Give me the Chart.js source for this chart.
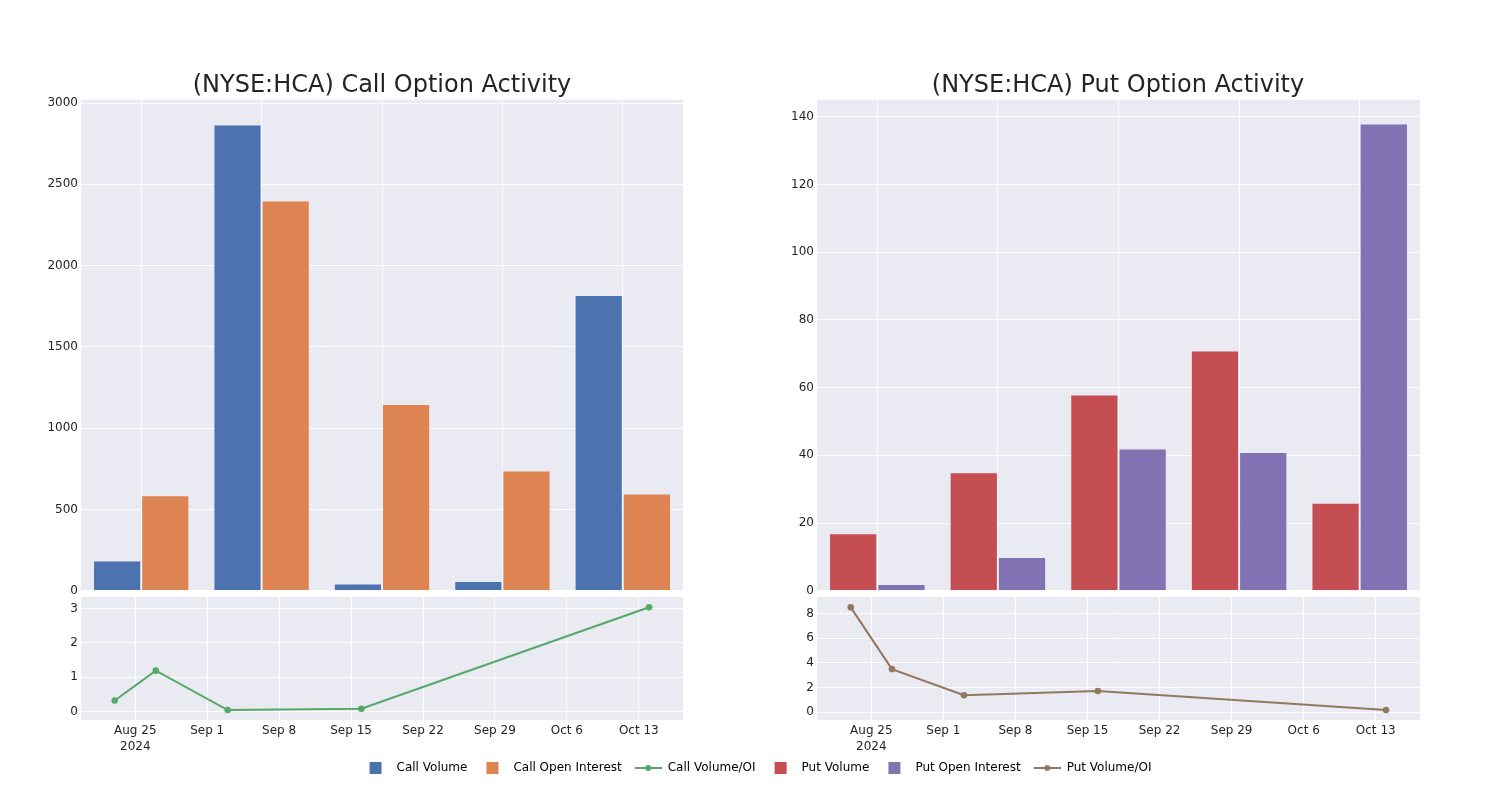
<!DOCTYPE html>
<html><head><meta charset="utf-8">
<script src="https://cdn.jsdelivr.net/npm/chart.js@4.4.1/dist/chart.umd.min.js"></script>
<style>
html,body{margin:0;padding:0;background:#fff;}
body{width:1500px;height:800px;position:relative;overflow:hidden;}
canvas{position:absolute;display:block;}
</style></head><body>
<canvas id="callBar" width="764" height="601" style="left:0;top:0"></canvas>
<canvas id="putBar" width="764" height="601" style="left:736px;top:0"></canvas>
<canvas id="callLine" width="1500" height="220" style="left:0;top:580px"></canvas>
<canvas id="putLine" width="764" height="200" style="left:736px;top:580px"></canvas>
<script>
// ---- data ----
const dates = ['2024-08-23','2024-08-27','2024-09-03','2024-09-16','2024-10-14'];
const callVolume = [187, 2868, 45, 61, 1820];
const callOpenInterest = [587, 2400, 1149, 740, 598];
const callVolumeOI = [0.32, 1.19, 0.04, 0.08, 3.04];
const putVolume = [17, 35, 58, 71, 26];
const putOpenInterest = [2, 10, 42, 41, 138];
const putVolumeOI = [8.5, 3.5, 1.38, 1.73, 0.19];
const weekTicks = ['2024-08-25','2024-09-01','2024-09-08','2024-09-15','2024-09-22','2024-09-29','2024-10-06','2024-10-13'];
const callBarTicks = [0, 500, 1000, 1500, 2000, 2500, 3000];
const putBarTicks = [0, 20, 40, 60, 80, 100, 120, 140];
const callLineTicks = [0, 1, 2, 3];
const putLineTicks = [0, 2, 4, 6, 8];
const seriesNames = ['Call Volume','Call Open Interest','Call Volume/OI','Put Volume','Put Open Interest','Put Volume/OI'];
const titles = ['(NYSE:HCA) Call Option Activity','(NYSE:HCA) Put Option Activity'];
const monthNames = ['Jan','Feb','Mar','Apr','May','Jun','Jul','Aug','Sep','Oct','Nov','Dec'];

// ---- styles ----
const C = {
  blue:'rgb(76,114,176)', orange:'rgb(221,132,82)', green:'rgb(85,168,104)',
  red:'rgb(196,78,82)', purple:'rgb(129,114,179)', brown:'rgb(147,120,96)',
  bg:'rgb(234,234,242)', text:'rgb(36,36,36)'
};
Chart.defaults.font.family = '"DejaVu Sans", sans-serif';
Chart.defaults.font.size = 12;
Chart.defaults.color = C.text;
Chart.defaults.animation = false;

const toDay = s => Date.UTC(+s.slice(0,4), +s.slice(5,7)-1, +s.slice(8,10)) / 864e5;
const dayX = dates.map(toDay);
const fmtDay = v => { const d = new Date(Math.round(v) * 864e5); return monthNames[d.getUTCMonth()] + ' ' + d.getUTCDate(); };

const bgPlugin = { id:'bg', beforeDraw(chart){ const {ctx, chartArea:a} = chart; ctx.save(); ctx.fillStyle = C.bg; ctx.fillRect(a.left, a.top, a.right-a.left, a.bottom-a.top); ctx.restore(); } };
const setTicks = arr => (s => { s.ticks = arr.map(v => ({value:v})); });
const gridW = {color:'#ffffff', lineWidth:1, drawTicks:false};
const padAxis = w => ({type:'linear', axis:'y', position:'right', display:true, grid:{display:false}, border:{display:false}, ticks:{display:false}, afterFit:s=>{s.width=w;}});

function barChart(id, title, v1, v2, n1, n2, c1, c2, ymax, ticks, padRight){
  return new Chart(document.getElementById(id), {
    type:'bar',
    data:{ labels: dates, datasets:[
      {label:n1, data:v1, backgroundColor:c1, borderColor:'rgba(234,234,242,0.7)', borderWidth:1},
      {label:n2, data:v2, backgroundColor:c2, borderColor:'rgba(234,234,242,0.7)', borderWidth:1}
    ]},
    options:{
      responsive:false, animation:false,
      layout:{padding:{top:0,left:0,right:0,bottom:10}},
      datasets:{bar:{categoryPercentage:0.8, barPercentage:1.0}},
      plugins:{
        legend:{display:false}, tooltip:{enabled:false},
        title:{display:true, text:title, color:C.text, font:{size:24, weight:'normal'}, padding:{top:71, bottom:0}}
      },
      scales:{
        x:{grid:{...gridW, offset:false}, border:{display:false}, ticks:{display:false}, afterFit:s=>{s.height=0;}},
        y:{min:0, max:ymax, grid:gridW, border:{display:false}, ticks:{padding:3, color:C.text, callback:v=>String(v)},
           afterBuildTicks:setTicks(ticks), afterFit:s=>{s.width=81;}},
        pad: padAxis(padRight)
      }
    },
    plugins:[bgPlugin]
  });
}
barChart('callBar', titles[0], callVolume, callOpenInterest, seriesNames[0], seriesNames[1], C.blue, C.orange, 3020, callBarTicks, 81);
barChart('putBar', titles[1], putVolume, putOpenInterest, seriesNames[3], seriesNames[4], C.red, C.purple, 145, putBarTicks, 80);

// legend icons
function squareIcon(color){ const c=document.createElement('canvas'); c.width=28; c.height=12; const x=c.getContext('2d'); x.fillStyle=color; x.fillRect(7,0,12,12); return c; }
function lineIcon(color){ const c=document.createElement('canvas'); c.width=28; c.height=12; const x=c.getContext('2d'); x.strokeStyle=color; x.lineWidth=2; x.beginPath(); x.moveTo(1,6); x.lineTo(28,6); x.stroke(); x.fillStyle=color; x.beginPath(); x.arc(14.5,6,3,0,Math.PI*2); x.fill(); return c; }
const legendColors = [C.blue, C.orange, C.green, C.red, C.purple, C.brown];
const legendKinds = ['sq','sq','ln','sq','sq','ln'];

const xMin = dayX[0] - 3.28, xMax = dayX[dayX.length-1] + 3.3;
function lineChart(id, name, vals, color, ymin, ymax, ticks, opts){
  const scales = {
    x:{type:'linear', min:xMin, max:xMax, grid:gridW, border:{display:false},
       ticks:{autoSkip:false, maxRotation:0, padding:3, color:C.text, font:{lineHeight:1.3},
              callback:(v,i)=> i===0 ? [fmtDay(v),'2024'] : fmtDay(v)},
       afterBuildTicks:setTicks(weekTicks.map(toDay)), afterFit:s=>{s.height=30;}},
    y:{min:ymin, max:ymax, grid:gridW, border:{display:false}, ticks:{padding:3, color:C.text, callback:v=>String(v)},
       afterBuildTicks:setTicks(ticks), afterFit:s=>{s.width=opts.yWidth;}}
  };
  if (opts.rightPad) scales.pad = padAxis(opts.rightPad);
  return new Chart(document.getElementById(id), {
    type:'line',
    data:{ datasets:[{label:name, data: vals.map((v,i)=>({x:dayX[i], y:v})), borderColor:color, backgroundColor:color,
      borderWidth:2, pointRadius:3.3, pointBorderWidth:0, pointBackgroundColor:color, tension:0}]},
    options:{
      responsive:false, animation:false,
      layout:{padding:opts.padding},
      plugins:{
        tooltip:{enabled:false},
        legend: opts.legend ? {
          display:true, position:'bottom',
          labels:{usePointStyle:true, pointStyleWidth:28, padding:12, color:C.text, font:{size:12},
            generateLabels:()=> seriesNames.map((t,i)=>({text:t, fillStyle:legendColors[i], strokeStyle:legendColors[i], lineWidth:0,
              pointStyle: legendKinds[i]==='sq' ? squareIcon(legendColors[i]) : lineIcon(legendColors[i]), hidden:false, datasetIndex:0}))}
        } : {display:false}
      },
      scales
    },
    plugins:[bgPlugin]
  });
}
lineChart('callLine', seriesNames[2], callVolumeOI, C.green, -0.25, 3.34, callLineTicks,
  {yWidth:67, rightPad:817, legend:true, padding:{top:17, left:14, right:0, bottom:16}});
lineChart('putLine', seriesNames[5], putVolumeOI, C.brown, -0.62, 9.34, putLineTicks,
  {yWidth:81, legend:false, padding:{top:17, left:0, right:80, bottom:30}});
</script>
</body></html>
